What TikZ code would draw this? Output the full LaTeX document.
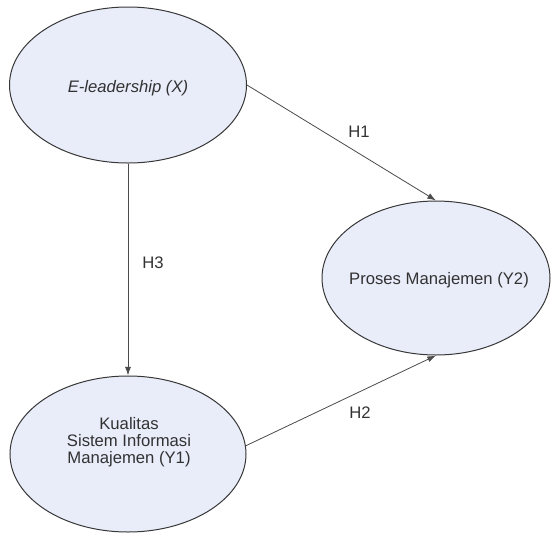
\documentclass[tikz,border=0pt]{standalone}
\usepackage{fontspec}
\setmainfont{Liberation Sans}
\usetikzlibrary{shapes.geometric,arrows.meta}
\definecolor{latentfill}{RGB}{233,237,250}
\definecolor{edgegray}{RGB}{55,55,55}
\definecolor{textgray}{RGB}{50,50,50}

\begin{document}
\begin{tikzpicture}[x=0.75pt,y=0.75pt,yscale=-1,xscale=1,
  latent/.style={ellipse, draw=edgegray, line width=0.75pt, fill=latentfill, inner sep=0pt},
  varlabel/.style={text=textgray, font=\fontsize{12.5}{12.8}\selectfont, align=center, inner sep=0.75pt},
  hyplabel/.style={text=textgray, font=\fontsize{12.5}{14}\selectfont, inner sep=0.75pt},
  hypo/.style={draw=edgegray!90, line width=0.6pt, -{Latex[length=6.5pt,width=4.5pt]}}]
%set diagram left start at 0, and has height of 533
\useasboundingbox (0,0) rectangle (551,533);

% Ellipse
\node [latent, minimum width=177.75pt, minimum height=117pt] (lead) at (128,85) {};
% Ellipse
\node [latent, minimum width=171pt, minimum height=115.5pt] (proses) at (436,278) {};
% Ellipse
\node [latent, minimum width=177pt, minimum height=117pt] (kualitas) at (128,454) {};

% Text Node
\node [varlabel] (leadText) at (128,88) {\itshape E-leadership (X)};
% Text Node
\node [varlabel] (prosesText) at (439,280) {Proses Manajemen (Y2)};
% Text Node
\node [varlabel] (kualitasText) at (129,442) {Kualitas\\Sistem Informasi\\Manajemen (Y1)};

% Connection
\draw [hypo] (lead.east) -- (proses.north);
% Connection
\draw [hypo] (kualitas.4) -- (proses.south);
% Connection
\draw [hypo] (lead.south) -- (kualitas.north);

% Text Node
\node [hyplabel] (h1) at (359,132) {H1};
% Text Node
\node [hyplabel] (h2) at (360,413) {H2};
% Text Node
\node [hyplabel] (h3) at (153,263) {H3};

\end{tikzpicture}
\end{document}
